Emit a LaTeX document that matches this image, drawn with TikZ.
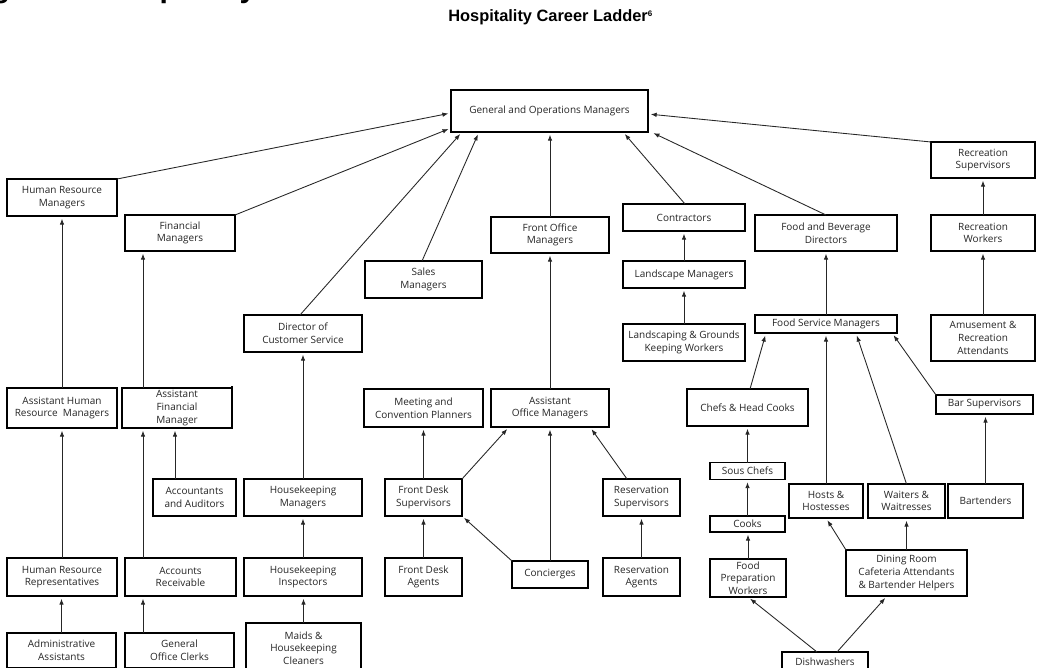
\documentclass[tikz,border=0pt]{standalone}
\usepackage{fontspec}
\setmainfont{Open Sans}
\newfontfamily\headfont{Liberation Sans}
\usetikzlibrary{arrows.meta,calc}
\begin{document}
\begin{tikzpicture}[x=0.75pt,y=-0.75pt,
  bx/.style 2 args={draw=black, line width=0.95pt, inner sep=0pt, outer sep=0pt, align=center,
    minimum width=#1*0.75pt, minimum height=#2*0.75pt, text=black!85,
    font=\fontsize{7.5pt}{9.5pt}\selectfont},
  ar/.style={draw=black!85, line width=0.65pt, -{Latex[length=4.5pt,width=3.4pt]}, shorten >=2pt}]
\useasboundingbox (0,0) rectangle (1037,667);
\clip (0,0) rectangle (1037,667);
\fill[white] (0,0) rectangle (1037,667);

% headings (the first one is cut by the top edge, as in the reference)
\node[font=\headfont\bfseries\fontsize{22.5pt}{24pt}\selectfont, anchor=base west, inner sep=0pt] (head) at (-35,-2.5) {Figure 6: Hospitality};
\node[font=\headfont\bfseries\fontsize{12.3pt}{14pt}\selectfont, anchor=base west, inner sep=0pt] (title) at (448,22) {Hospitality Career Ladder\textsuperscript{\fontsize{6pt}{6pt}\selectfont 6}};

% boxes
\node[bx={197}{42}] (gom) at (549.5,111) {General and Operations Managers};
\node[bx={110}{37}] (hrm) at (62,197.5) {Human Resource\\Managers};
\node[bx={110}{36}] (fm) at (180,233) {Financial\\Managers};
\node[bx={118}{37}] (dcs) at (303,333.5) {Director of\\Customer Service};
\node[bx={117}{37}] (sales) at (423.5,279.5) {Sales\\Managers};
\node[bx={118}{36}] (fom) at (550,235) {Front Office\\Managers};
\node[bx={122}{27}] (contr) at (684,217.5) {Contractors};
\node[bx={122}{27}] (lsm) at (684,274.5) {Landscape Managers};
\node[bx={122}{37}] (lgw) at (684,342.5) {Landscaping \& Grounds\\Keeping Workers};
\node[bx={142}{36}] (fbd) at (826,233) {Food and Beverage\\Directors};
\node[bx={104}{36}] (recs) at (983,160) {Recreation\\Supervisors};
\node[bx={104}{36}] (recw) at (983,233) {Recreation\\Workers};
\node[bx={104}{46}] (amus) at (983,338) {Amusement \&\\Recreation\\Attendants};
\node[bx={142}{18}] (fsm) at (826,324) {Food Service Managers};
\node[bx={97}{19}] (bars) at (984.5,404.5) {Bar Supervisors};
\node[bx={121}{37}] (chefs) at (747.5,407.5) {Chefs \& Head Cooks};
\node[bx={75}{17}] (sous) at (747.5,471) {Sous Chefs};
\node[bx={75}{16}] (cooks) at (747.5,524) {Cooks};
\node[bx={76}{38}] (fpw) at (748,578) {Food\\Preparation\\Workers};
\node[bx={74}{34}] (hosts) at (826,501) {Hosts \&\\Hostesses};
\node[bx={77}{34}] (waiters) at (906.5,501) {Waiters \&\\Waitresses};
\node[bx={75}{34}] (bart) at (985.5,501) {Bartenders};
\node[bx={121}{46}] (dining) at (906.5,573) {Dining Room\\Cafeteria Attendants\\\& Bartender Helpers};
\node[bx={86}{20}] (dish) at (825,662) {Dishwashers};

\node[bx={119}{38}] (mcp) at (423.5,408) {Meeting and\\Convention Planners};
\node[bx={118}{38}] (aom) at (550,408) {Assistant\\Office Managers};
\node[bx={77}{37}] (fds) at (423.5,497.5) {Front Desk\\Supervisors};
\node[bx={77}{37}] (ress) at (641.5,497.5) {Reservation\\Supervisors};
\node[bx={77}{38}] (fda) at (423.5,577) {Front Desk\\Agents};
\node[bx={76}{27}] (conc) at (550,574.5) {Concierges};
\node[bx={77}{38}] (resa) at (641.5,577) {Reservation\\Agents};
\node[bx={118}{37}] (hkm) at (303,497.5) {Housekeeping\\Managers};
\node[bx={118}{38}] (hki) at (303,577) {Housekeeping\\Inspectors};
\node[bx={115}{50}] (maids) at (303.5,648) {Maids \&\\Housekeeping\\Cleaners};
\node[bx={110}{40}] (ashrm) at (62,408) {Assistant Human\\Resource\ \ Managers};
\node[bx={110}{40}] (afm) at (177,408) {Assistant\\Financial\\Manager};
\node[bx={83}{37}] (acc) at (194.5,497.5) {Accountants\\and Auditors};
\node[bx={110}{38}] (hrr) at (62,577) {Human Resource\\Representatives};
\node[bx={111}{38}] (ar) at (180.5,577) {Accounts\\Receivable};
\node[bx={109}{35}] (admin) at (61.5,650.5) {Administrative\\Assistants};
\node[bx={109}{35}] (goc) at (179.5,650.5) {General\\Office Clerks};

\draw[line width=1.7pt] ($(afm.north east)+(0,-2)$) -- (afm.south east);

% connectors into General and Operations Managers
\draw[ar] (hrm.north east) -- ($(gom.west)+(0,2)$);
\draw[ar] (fm.north east) -- ($(gom.south west)+(0,-4)$);
\draw[ar] ($(dcs.north)+(-3,0)$) -- ($(gom.south west)+(11,0)$);
\draw[ar] ($(sales.north)+(-1.5,0)$) -- ($(gom.south west)+(28,0)$);
\draw[ar] (fom.north) -- (fom.north |- gom.south);
\draw[ar] ($(contr.north)+(1,0)$) -- ($(gom.south east)+(-25,0)$);
\draw[ar] (fbd.north) -- ($(gom.south east)+(3,0)$);
\draw[ar] (recs.north west) -- ($(gom.east)+(0,3)$);

% left
\draw[ar] (ashrm.north) -- (hrm.south);
\draw[ar] ($(afm.north west)+(21,0)$) -- ($(fm.south west)+(18,0)$);
\draw[ar] (hrr.north) -- (ashrm.south);
\draw[ar] ($(ar.north west)+(18,0)$) -- ($(afm.south west)+(21,0)$);
\draw[ar] ($(acc.north west)+(22,0)$) -- ($(afm.south west)+(53,0)$);
\draw[ar] (admin.north) -- (admin.north |- hrr.south);
\draw[ar] ($(goc.north west)+(18,0)$) -- ($(ar.south west)+(18,0)$);

% middle
\draw[ar] (hkm.north) -- (dcs.south);
\draw[ar] (hki.north) -- (hkm.south);
\draw[ar] (maids.north) -- (maids.north |- hki.south);
\draw[ar] (fds.north) -- (mcp.south);
\draw[ar] (fda.north) -- (fds.south);
\draw[ar] (fds.north east) -- ($(aom.south west)+(18,0)$);
\draw[ar] (conc.north) -- (aom.south);
\draw[ar] (conc.north west) -- (fds.south east);
\draw[ar] ($(ress.north west)+(24,0)$) -- ($(aom.south east)+(-19,0)$);
\draw[ar] (resa.north) -- (ress.south);
\draw[ar] (aom.north) -- (fom.south);
\draw[ar] (lsm.north) -- (contr.south);
\draw[ar] (lgw.north) -- (lsm.south);

% right
\draw[ar] (fsm.north) -- (fbd.south);
\draw[ar] ($(chefs.north)+(2.5,0)$) -- ($(fsm.south west)+(11,0)$);
\draw[ar] (hosts.north) -- (fsm.south);
\draw[ar] (waiters.north) -- ($(fsm.south)+(30,0)$);
\draw[ar] (bars.north west) -- ($(fsm.south east)+(-5,0)$);
\draw[ar] (sous.north) -- (chefs.south);
\draw[ar] (cooks.north) -- (sous.south);
\draw[ar] (fpw.north) -- (fpw.north |- cooks.south);
\draw[ar] ($(dish.north)+(-8,0)$) -- (fpw.south);
\draw[ar] ($(dish.north)+(12,0)$) -- ($(dining.south west)+(41,0)$);
\draw[ar] (dining.north west) -- (hosts.south);
\draw[ar] (dining.north) -- (waiters.south);
\draw[ar] (bart.north) -- (bart.north |- bars.south);
\draw[ar] (amus.north) -- (recw.south);
\draw[ar] (recw.north) -- (recs.south);
\end{tikzpicture}
\end{document}
